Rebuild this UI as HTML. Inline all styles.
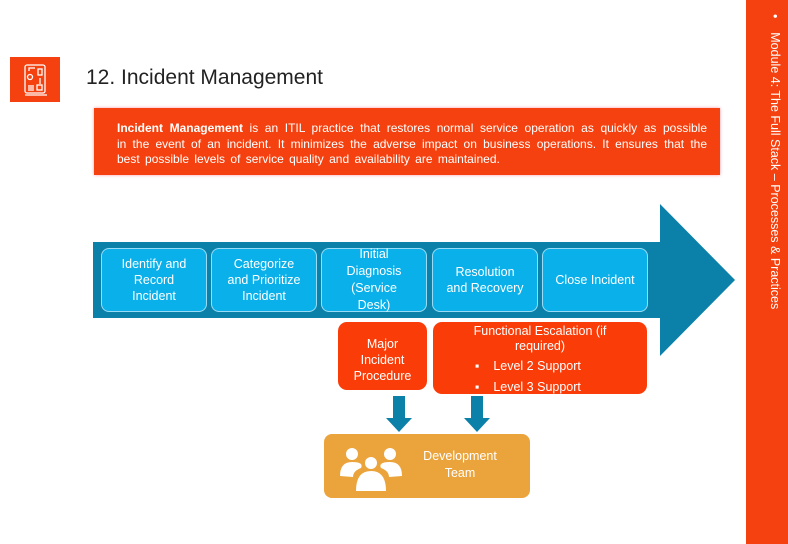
<!DOCTYPE html><html><head><style>
body{margin:0;width:788px;height:544px;background:#fff;position:relative;overflow:hidden;font-family:"Liberation Sans",sans-serif}
.a{position:absolute}
.b{position:absolute;background:#0ab0ea;border:1.5px solid #9adcf5;border-radius:8px;color:#fff;font-size:12.5px;text-align:center;display:flex;align-items:center;justify-content:center;line-height:16px;box-sizing:border-box;height:64px;top:248px;width:106px}
.r{position:absolute;background:#fa3c08;border-radius:9px;color:#fff;font-size:12.5px;text-align:center;line-height:16px;box-sizing:border-box}
</style></head><body>
<div class="a" style="left:746px;top:0;width:42px;height:544px;background:#f5410f"></div>
<div class="a" style="left:762px;top:14px;width:20px;height:320px;color:#fff;font-size:12.5px;writing-mode:vertical-rl;white-space:nowrap">•&nbsp;&nbsp;&nbsp;&nbsp;Module 4: The Full Stack – Processes &amp; Practices</div>
<div class="a" style="left:10px;top:57px;width:50px;height:45px;background:#f5410f"></div>
<svg class="a" style="left:10px;top:57px" width="50" height="45"><g fill="none" stroke="#fff" stroke-width="1.3"><rect x="15" y="8" width="20" height="28" rx="2"/><rect x="28" y="12" width="4" height="6"/><circle cx="20" cy="20" r="2.5"/><path d="M19 14v-3h6M30 21v6"/><rect x="27" y="28" width="5" height="5"/><path d="M18 29h6M18 31h6M18 33h6M15 38h22"/></g></svg>
<div class="a" style="left:86px;top:66px;font-size:21px;color:#222">12. Incident Management</div>
<div class="a" style="left:94px;top:108px;width:626px;height:67px;background:#f5410f;box-shadow:0 0 3px #f9a;"></div>
<div class="a" style="left:117px;top:121px;width:590px;color:#fff;font-size:12px;line-height:15.5px;text-align:justify;text-align-last:justify"><b>Incident Management</b> is an ITIL practice that restores normal service operation as quickly as possible<br>in the event of an incident. It minimizes the adverse impact on business operations. It ensures that the</div>
<div class="a" style="left:117px;top:152px;color:#fff;font-size:12px;word-spacing:2px">best possible levels of service quality and availability are maintained.</div>
<svg class="a" style="left:0;top:0" width="788" height="544"><polygon points="93,242 660,242 660,204 735,280 660,356 660,318 93,318" fill="#0b81a9"/>
<path d="M393 396h12v22h7l-13 14-13-14h7z" fill="#0b81a9"/><path d="M471 396h12v22h7l-13 14-13-14h7z" fill="#0b81a9"/></svg>
<div class="b" style="left:101px">Identify and<br>Record<br>Incident</div>
<div class="b" style="left:211px">Categorize<br>and Prioritize<br>Incident</div>
<div class="b" style="left:321px;overflow:visible;line-height:17px">Initial<br>Diagnosis<br>(Service<br>Desk)</div>
<div class="b" style="left:432px">Resolution<br>and Recovery</div>
<div class="b" style="left:542px">Close Incident</div>
<div class="r" style="left:338px;top:322px;width:89px;height:68px;padding-top:14px">Major<br>Incident<br>Procedure</div>
<div class="r" style="left:433px;top:322px;width:214px;height:72px;padding-top:2px;line-height:15px">Functional Escalation (if<br>required)<div style="text-align:left;padding-left:42px;line-height:21px;margin-top:2px">▪&nbsp;&nbsp;&nbsp;&nbsp;Level 2 Support<br>▪&nbsp;&nbsp;&nbsp;&nbsp;Level 3 Support</div></div>
<div class="a" style="left:324px;top:434px;width:206px;height:64px;background:#eba43c;border-radius:8px"></div>
<svg class="a" style="left:338px;top:446px" width="66" height="46" fill="#fff"><circle cx="14" cy="8" r="6"/><circle cx="52" cy="8" r="6"/><circle cx="33" cy="17" r="6"/><path d="M2 30q0-14 12-14t9 6q-8 3-8 9z M64 30q0-14-12-14t-9 6q8 3 8 9z M18 45q0-20 15-20t15 20z"/></svg>
<div class="a" style="left:410px;top:448px;width:100px;text-align:center;color:#fff;font-size:12.5px;line-height:17px">Development<br>Team</div>
</body></html>
